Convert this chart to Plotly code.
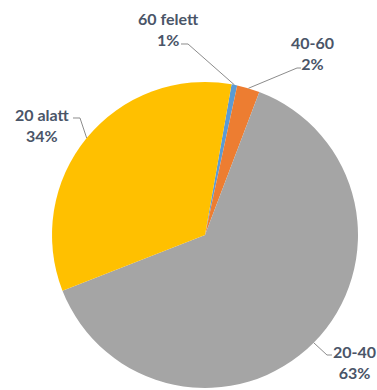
import math
import plotly.graph_objects as go

# slice data (drawn clockwise, first slice starts a bit right of 12 o'clock)
labels = ["60 felett", "40-60", "20-40", "20 alatt"]
values = [0.6, 2.4, 63.3, 33.7]
colors = ["#5B9BD5", "#ED7D31", "#A5A5A5", "#FFC000"]

W, H = 377, 390
ROTATION = 10
CX, CY, R = 205, 235, 153  # pie centre / radius in pixels

# label block centres and leader-line elbows (pixels), same order as labels
label_pos = [(168, 29), (312, 53), (354, 362), (42, 125)]
elbows = [((188, 44), (181, 44)), ((297, 68), (301, 68)),
          ((327, 355), (332, 355)), ((80, 118), (73, 118))]

text_color = "#4A5568"
font_family = "Lato"


def px(x, y):
    return x / W, 1 - y / H


fig = go.Figure()
x0, y0 = px(CX - R, CY + R)
x1, y1 = px(CX + R, CY - R)
fig.add_trace(go.Pie(
    labels=labels,
    values=values,
    sort=False,
    direction="clockwise",
    rotation=ROTATION,
    marker=dict(colors=colors, line=dict(width=0)),
    textinfo="none",
    hoverinfo="label+percent",
    showlegend=False,
    domain=dict(x=[x0, x1], y=[y0, y1]),
))

total = sum(values)
angle = ROTATION
shapes = []
annotations = []
for lab, val, pos, (elbow, end) in zip(labels, values, label_pos, elbows):
    mid = math.radians(angle + val / total * 360 / 2)
    angle += val / total * 360
    ex, ey = CX + R * math.sin(mid), CY - R * math.cos(mid)
    pts = [px(ex, ey), px(*elbow), px(*end)]
    path = "M " + " L ".join(f"{a:.5f},{b:.5f}" for a, b in pts)
    shapes.append(dict(type="path", path=path, xref="paper", yref="paper",
                       line=dict(color="#8C8C8C", width=1)))
    lx, ly = px(*pos)
    annotations.append(dict(
        x=lx, y=ly, xref="paper", yref="paper", showarrow=False,
        xanchor="center", yanchor="middle",
        text=f"<b>{lab}<br>{round(val / total * 100)}%</b>",
        font=dict(family=font_family, size=16, color=text_color),
        align="center",
    ))

fig.update_layout(
    width=W, height=H,
    margin=dict(l=0, r=0, t=0, b=0),
    paper_bgcolor="white",
    plot_bgcolor="white",
    shapes=shapes,
    annotations=annotations,
)

# drop the default page margin so the figure fills the window exactly
fig.write_html("out.html",
               config={"displayModeBar": False},
               post_script="document.body.style.margin='0';"
                           "document.body.style.overflow='hidden';")
